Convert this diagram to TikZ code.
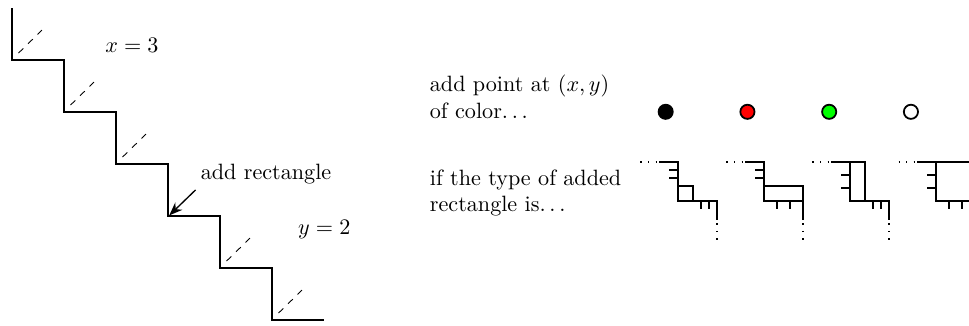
\documentclass[tikz,border=0pt]{standalone}
\usetikzlibrary{arrows.meta}
\newcommand{\dotsep}{.\kern\fontdimen3\font.\kern\fontdimen3\font.}
\begin{document}
\begin{tikzpicture}[x=0.825cm, y=0.825cm, >={Stealth[length=6pt,width=4.6pt]},
    stair/.style={thick, line join=miter},
    guide/.style={thin, dashed},
    leadin/.style={line width=0.6pt, dash pattern=on 0.6pt off 2.8pt},
    colordot/.style={circle, draw, thick, inner sep=0pt, minimum size=6.4pt}]
    \useasboundingbox (-0.2365,0.16) rectangle (18.398,-6.09);
    % Escalera
    \draw[stair] (0,0) \foreach \k in {0,...,5} { -- (\k,-\k-1) -- (\k+1,-\k-1) };
    \foreach \k in {0,...,5} {
        \coordinate (c\k) at (\k,-\k-1);
    }
    \foreach \k in {0,1,2,4,5} {
        \draw[guide] (\k+0.12,-\k-0.86) -- (\k+0.57,-\k-0.42);
    }
    \node (xlab) at (2.3,-0.72) {$x=3$};
    \node (ylab) at (6.0,-4.25) {$y=2$};
    \node (addrect) at (4.88,-3.19) {add rectangle};
    \draw[->, semithick, shorten >=0.6pt] ([shift={(0.05,0.04)}]addrect.south west) -- (c3);
    % Puntos de color
    \node[anchor=base west, align=left] (pointtext) at (7.88,-2.11) {add point at $(x,y)$\\ of color\dotsep};
    \foreach \col [count=\i from 0] in {black, red, green, white} {
        \node[colordot, fill=\col] (dot\i) at (12.565+1.572*\i,-1.99) {};
    }
    % Tipos de rectángulo
    \node[anchor=base west, align=left] (typetext) at (7.88,-3.91) {if the type of added\\ rectangle is\dotsep};
    \foreach \w/\h/\fv/\fh [count=\i from 0] in {0.29/0.29/0.46/0.46, 0.75/0.29/0.46/0.75, 0.29/0.75/0.75/0.46, 0.75/0.75/0.75/0.75} {
        \begin{scope}[shift={(12.80+1.654*\i,-2.956)}]
            \draw[leadin] (-0.72,0) -- (-0.36,0);
            \draw[stair] (-0.36,0) -- (0,0) -- (0,-0.75) -- (0.75,-0.75) -- (0.75,-1.12);
            \draw[leadin] (0.75,-1.18) -- (0.75,-1.52);
            \draw[stair] (0,-0.75) rectangle (\w,-0.75+\h);
            \draw[thick] (0,-\fv/3) -- ++(-0.17,0);
            \draw[thick] (0,-2*\fv/3) -- ++(-0.17,0);
            \draw[thick] (0.75-\fh/3,-0.75) -- ++(0,-0.16);
            \draw[thick] (0.75-2*\fh/3,-0.75) -- ++(0,-0.16);
        \end{scope}
    }
\end{tikzpicture}
\end{document}
